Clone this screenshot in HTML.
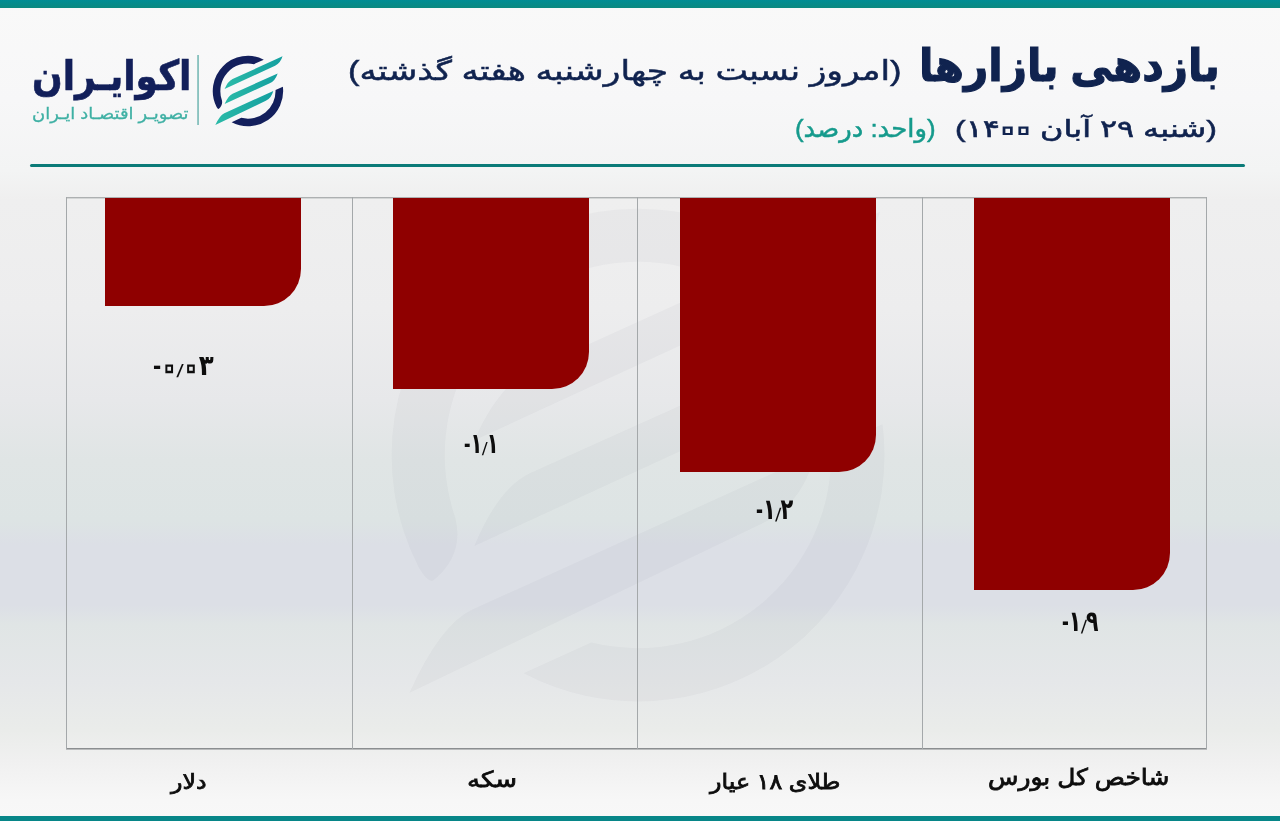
<!DOCTYPE html>
<html lang="fa">
<head>
<meta charset="utf-8">
<title>بازدهی بازارها</title>
<style>
html,body{margin:0;padding:0;}
body{width:1280px;height:821px;position:relative;overflow:hidden;
  font-family:"Liberation Sans","DejaVu Sans",sans-serif;
  background:linear-gradient(to bottom,#f9f9f9 0px,#f7f7f8 100px,#f3f4f4 170px,#efefef 200px,#ededee 310px,#e7e8ea 400px,#e0e5e5 460px,#dde4e4 520px,#dcdfe6 545px,#dcdfe6 605px,#e0e5e5 625px,#e5e7e9 680px,#eaecea 730px,#f0f0f0 760px,#f7f7f7 800px,#f8f8f8 821px);}
.abs{position:absolute;}
.topbar{left:0;top:0;width:1280px;height:8px;background:linear-gradient(to bottom,#018e95,#0a8a80);}
.botbar{left:0;top:816px;width:1280px;height:5px;background:#078688;}
.divider{left:30px;top:164px;width:1215px;height:3px;background:#0b7b78;border-radius:1.5px;}
.vline{top:197px;width:1px;height:552px;background:#a4a8aa;}
.hline{left:66px;width:1141px;}
.bar{background:#8f0000;top:198px;width:196px;border-bottom-right-radius:37px;}
.tx{position:absolute;white-space:nowrap;line-height:1.2;transform-origin:0 0;}
.sl{font-size:0.64em;position:relative;top:0.1em;display:inline-block;transform:skewX(-16deg);margin:0 0.22em 0 0.02em}
.zr{font-size:2.15em;line-height:0;position:relative;top:0.143em;margin:0 -0.155em;-webkit-text-fill-color:transparent;-webkit-text-stroke:0.04em currentColor}
.z{font-size:1.33em;line-height:0;position:relative;top:0.1em;margin:0 -0.06em;-webkit-text-fill-color:transparent;-webkit-text-stroke:0.062em currentColor}
#t1{left:919.25px;top:39.20px;font-weight:bold;font-size:46px;color:#10234f;direction:rtl;-webkit-text-stroke:1.20px currentColor;transform:scale(0.9161,0.9708);}
#t1s{left:348.22px;top:55.00px;font-size:27px;color:#10234f;direction:rtl;-webkit-text-stroke:0.50px currentColor;transform:scale(1.2777,1.0000);}
#t2{left:954.57px;top:114.93px;font-size:26px;color:#10234f;direction:rtl;-webkit-text-stroke:0.60px currentColor;transform:scale(1.2284,0.9333);}
#t2u{left:794.60px;top:114.49px;font-size:26px;color:#159a8c;direction:rtl;-webkit-text-stroke:0.50px currentColor;transform:scale(0.9957,0.9519);}
#v1{left:152.52px;top:349.22px;font-weight:bold;font-size:28px;letter-spacing:-0.1em;color:#0d0d0d;direction:ltr;-webkit-text-stroke:0.00px currentColor;transform:scale(0.8765,1.0100);}
#v2{left:464.01px;top:426.92px;font-weight:bold;font-size:28px;letter-spacing:-0.1em;color:#0d0d0d;direction:ltr;-webkit-text-stroke:0.00px currentColor;transform:scale(0.6932,1.0100);}
#v3{left:756.25px;top:491.76px;font-weight:bold;font-size:28px;letter-spacing:-0.1em;color:#0d0d0d;direction:ltr;-webkit-text-stroke:0.00px currentColor;transform:scale(0.7469,1.0300);}
#v4{left:1061.97px;top:604.46px;font-weight:bold;font-size:28px;letter-spacing:-0.1em;color:#0d0d0d;direction:ltr;-webkit-text-stroke:0.00px currentColor;transform:scale(0.7312,1.0300);}
#c1{left:171.08px;top:770.02px;font-size:22px;color:#0d0d0d;direction:rtl;-webkit-text-stroke:0.80px currentColor;transform:scale(1.0788,0.9375);}
#c2{left:466.62px;top:767.00px;font-size:22px;color:#0d0d0d;direction:rtl;-webkit-text-stroke:0.80px currentColor;transform:scale(1.1800,1.0000);}
#c3{left:709.83px;top:769.05px;font-size:22px;color:#0d0d0d;direction:rtl;-webkit-text-stroke:0.80px currentColor;transform:scale(1.0798,0.9750);}
#c4{left:987.82px;top:764.00px;font-size:23px;color:#0d0d0d;direction:rtl;-webkit-text-stroke:0.80px currentColor;transform:scale(1.0836,1.0000);}
#lg1{left:31.69px;top:52.10px;font-weight:bold;font-size:42px;color:#121f5a;direction:rtl;-webkit-text-stroke:0.70px currentColor;transform:scale(0.8569,0.9860);}
#lg2{left:32.34px;top:104.67px;font-size:17px;color:#3fb0a4;direction:rtl;-webkit-text-stroke:0.30px currentColor;transform:scale(1.0551,0.9647);}
</style>
</head>
<body>
<div class="abs topbar"></div>
<div class="abs botbar"></div>
<div class="abs divider"></div>

<!-- logo -->
<svg class="abs" style="left:0;top:0" width="320" height="160" viewBox="0 0 320 160">
  <defs>
    <linearGradient id="tg" x1="0" y1="0" x2="1" y2="0">
      <stop offset="0" stop-color="#2bbaa8"/><stop offset="1" stop-color="#14a0a0"/>
    </linearGradient>
  </defs>
  <g fill="#131f5c">
    <path d="M263.81 59.65 A35.20 35.20 0 0 0 216.59 107.05 Q217.78 109.20 218.62 109.05 Q223.18 105.37 221.85 100.06 A27.60 27.60 0 0 1 253.96 64.13 Z"/>
    <path d="M282.88 86.68 A35.20 35.20 0 0 1 231.62 122.25 L241.28 117.85 A27.60 27.60 0 0 0 275.53 90.02 Z"/>
  </g>
  <g fill="url(#tg)">
    <path d="M232.59 79.04 L282.54 56.33 Q280.53 63.23 275.07 65.72 L224.57 88.98 Q228.04 81.11 232.59 79.04 Z"/>
    <path d="M232.59 93.65 L277.67 73.39 Q275.17 80.77 269.71 83.25 L224.57 104.08 Q228.04 95.73 232.59 93.65 Z"/>
    <path d="M224.31 113.14 L273.29 90.93 Q271.27 98.31 265.81 100.79 L215.31 125.03 Q219.76 115.21 224.31 113.14 Z"/>
  </g>
  <rect x="197.3" y="55" width="1.5" height="70" fill="#6fb5b1"/>
</svg>

<!-- watermark -->
<svg class="abs" style="left:0;top:0" width="1280" height="821" viewBox="0 0 1280 821">
  <g transform="translate(638,455) scale(7) translate(-247.95,-91.07)" fill="#5a6670" fill-opacity="0.045">
    <path d="M263.81 59.65 A35.20 35.20 0 0 0 216.59 107.05 Q217.78 109.20 218.62 109.05 Q223.18 105.37 221.85 100.06 A27.60 27.60 0 0 1 253.96 64.13 Z"/>
    <path d="M282.88 86.68 A35.20 35.20 0 0 1 231.62 122.25 L241.28 117.85 A27.60 27.60 0 0 0 275.53 90.02 Z"/>
    <path d="M232.59 79.04 L282.54 56.33 Q280.53 63.23 275.07 65.72 L224.57 88.98 Q228.04 81.11 232.59 79.04 Z"/>
    <path d="M232.59 93.65 L277.67 73.39 Q275.17 80.77 269.71 83.25 L224.57 104.08 Q228.04 95.73 232.59 93.65 Z"/>
    <path d="M224.31 113.14 L273.29 90.93 Q271.27 98.31 265.81 100.79 L215.31 125.03 Q219.76 115.21 224.31 113.14 Z"/>
  </g>
</svg>

<!-- grid -->
<div class="abs hline" style="top:197px;height:2px;background:linear-gradient(to bottom,#adb0b1 0,#adb0b1 50%,#d4d6d6 50%,#d4d6d6 100%)"></div>
<div class="abs hline" style="top:748px;height:2px;background:linear-gradient(to bottom,#8b8e90 0,#8b8e90 50%,#b9bbbc 50%,#b9bbbc 100%)"></div>
<div class="abs vline" style="left:66px"></div>
<div class="abs vline" style="left:352px"></div>
<div class="abs vline" style="left:637px"></div>
<div class="abs vline" style="left:922px"></div>
<div class="abs vline" style="left:1206px"></div>

<!-- bars -->
<div class="abs bar" style="left:105px;height:108px"></div>
<div class="abs bar" style="left:392.5px;height:191px"></div>
<div class="abs bar" style="left:680px;height:274px"></div>
<div class="abs bar" style="left:974px;height:392px"></div>

<div class="tx" id="t1">بازدهی بازارها</div>
<div class="tx" id="t1s">(امروز نسبت به چهارشنبه هفته گذشته)</div>
<div class="tx" id="t2">(شنبه ۲۹ آبان ۱۴<span class='zr'>۰</span><span class='zr'>۰</span>)</div>
<div class="tx" id="t2u">(واحد: درصد)</div>
<div class="tx" id="v1">-<span class='z'>۰</span><span class='sl'>/</span><span class='z'>۰</span>۳</div>
<div class="tx" id="v2">-۱<span class='sl'>/</span>۱</div>
<div class="tx" id="v3">-۱<span class='sl'>/</span>۲</div>
<div class="tx" id="v4">-۱<span class='sl'>/</span>۹</div>
<div class="tx" id="c1">دلار</div>
<div class="tx" id="c2">سکه</div>
<div class="tx" id="c3">طلای ۱۸ عیار</div>
<div class="tx" id="c4">شاخص کل بورس</div>
<div class="tx" id="lg1">اکوایـران</div>
<div class="tx" id="lg2">تصویـر اقتصـاد ایـران</div>
</body>
</html>
